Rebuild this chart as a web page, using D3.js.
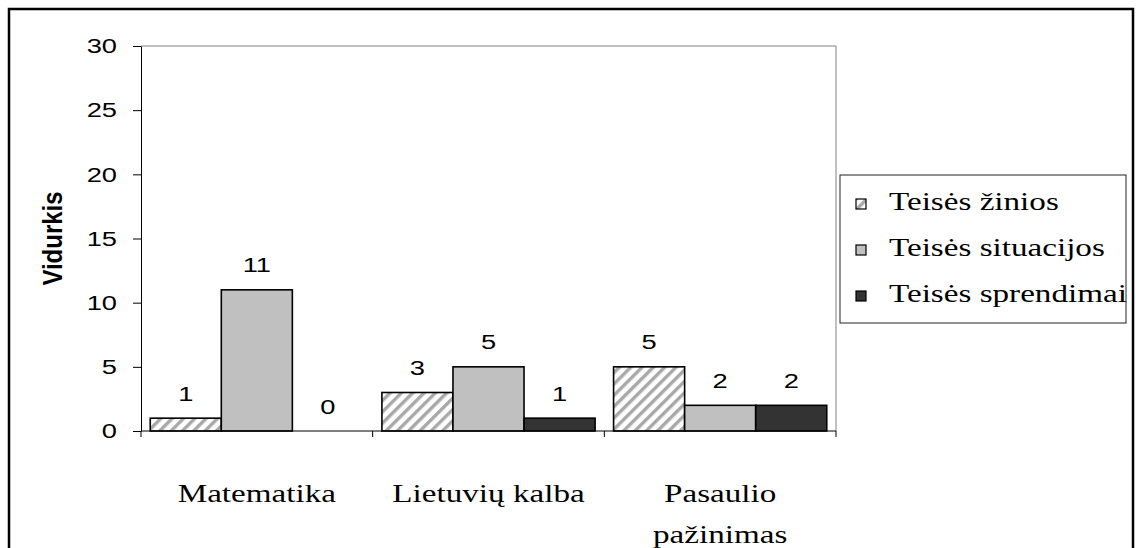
<!DOCTYPE html>
<html><head><meta charset="utf-8">
<script src="https://cdn.jsdelivr.net/npm/d3@7"></script>
<style>body{margin:0;background:#fff}svg{display:block}</style>
</head><body>
<svg id="c" width="1136" height="548"></svg>
<script>
const categories = [["Matematika"], ["Lietuvių kalba"], ["Pasaulio", "pažinimas"]];
const seriesNames = ["Teisės žinios", "Teisės situacijos", "Teisės sprendimai"];
const zinios = [1, 3, 5];
const situacijos = [11, 5, 2];
const sprendimai = [0, 1, 2];
const yTicks = [0, 5, 10, 15, 20, 25, 30];
const seriesValues = [zinios, situacijos, sprendimai];

const SX = 1.3; // horizontal text stretch seen in reference
const SANS = "Liberation Sans, Arial, sans-serif";
const SERIF = "Liberation Serif, Times New Roman, serif";

const svg = d3.select("#c");
const defs = svg.append("defs");
const pat = defs.append("pattern").attr("id", "hatch").attr("patternUnits", "userSpaceOnUse")
  .attr("width", 8).attr("height", 8).attr("patternTransform", "rotate(45)");
pat.append("rect").attr("width", 8).attr("height", 8).attr("fill", "#fff");
pat.append("rect").attr("x", 0).attr("width", 3.4).attr("height", 8).attr("fill", "#a8a8a8");
const fills = ["url(#hatch)", "#c0c0c0", "#333333"];

// outer frame
svg.append("path").attr("d", "M9,548 V9 H1133 V548").attr("fill", "none").attr("stroke", "#000").attr("stroke-width", 2.5);

const L = 141, R = 836, T = 46, B = 431;
const x = d3.scaleBand().domain(d3.range(categories.length)).range([L, R]).padding(0);
const xs = d3.scaleBand().domain(d3.range(seriesNames.length)).range([0, x.bandwidth()]).paddingInner(0).paddingOuter(0.13);
const y = d3.scaleLinear().domain([0, 30]).range([B, T]);

function stretchedText(sel, px, py) {
  return sel.attr("transform", `translate(${px},${py}) scale(${SX},1)`);
}

// plot frame (top/right gray)
svg.append("path").attr("d", `M${L},${T} H${R} V${B}`).attr("fill", "none").attr("stroke", "#808080").attr("stroke-width", 1);

// bars
seriesValues.forEach((vals, si) => {
  svg.append("g").selectAll("rect").data(vals).join("rect")
    .attr("x", (d, i) => x(i) + xs(si))
    .attr("y", d => y(d))
    .attr("width", xs.bandwidth())
    .attr("height", d => B - y(d))
    .attr("fill", fills[si])
    .attr("stroke", d => d > 0 ? "#000" : "none")
    .attr("stroke-width", 1.6);
  svg.append("g").selectAll("text").data(vals).join("text")
    .each(function(d, i) {
      stretchedText(d3.select(this), x(i) + xs(si) + xs.bandwidth() / 2, y(d) - 17.5);
    })
    .attr("text-anchor", "middle")
    .attr("font-family", SANS)
    .attr("font-size", 21)
    .text(d => d);
});

// y axis
const yAxis = svg.append("g").attr("transform", `translate(${L},0)`)
  .call(d3.axisLeft(y).tickValues(yTicks).tickSize(8).tickSizeOuter(0));
yAxis.attr("font-size", null).attr("font-family", null);
yAxis.select(".domain").attr("stroke", "#000").attr("stroke-width", 1);
yAxis.selectAll(".tick line").attr("stroke", "#000");
yAxis.selectAll(".tick text").attr("font-family", SANS)
  .attr("font-size", 21).attr("fill", "#000").attr("x", 0)
  .attr("transform", `translate(-24,0) scale(${SX},1)`);

// x axis
const xAxis = svg.append("g").attr("transform", `translate(0,${B})`);
xAxis.append("line").attr("x1", L).attr("x2", R).attr("stroke", "#000").attr("stroke-width", 1);
const bounds = d3.range(categories.length + 1).map(i => i < categories.length ? x(i) : x(i - 1) + x.bandwidth());
xAxis.selectAll("line.t").data(bounds).join("line").attr("class", "t")
  .attr("x1", d => d).attr("x2", d => d).attr("y1", 0).attr("y2", 6).attr("stroke", "#000");
categories.forEach((lines, i) => {
  lines.forEach((ln, k) => {
    stretchedText(svg.append("text"), x(i) + x.bandwidth() / 2, 502 + k * 41)
      .attr("text-anchor", "middle").attr("font-family", SERIF).attr("font-size", 25.5)
      .attr("fill", "#000").text(ln);
  });
});

// y title
svg.append("text").attr("transform", `translate(62,${(T + B) / 2}) scale(1.15,1) rotate(-90)`)
  .attr("text-anchor", "middle").attr("font-family", SANS)
  .attr("font-weight", "bold").attr("font-size", 24).text("Vidurkis");

// legend
const lg = svg.append("g");
lg.append("rect").attr("x", 840).attr("y", 175).attr("width", 286).attr("height", 148)
  .attr("fill", "#fff").attr("stroke", "#222").attr("stroke-width", 1);
const lyBase = [210, 256, 302];
seriesNames.forEach((n, i) => {
  lg.append("rect").attr("x", 856).attr("y", lyBase[i] - 11).attr("width", 10).attr("height", 10)
    .attr("fill", fills[i]).attr("stroke", "#000").attr("stroke-width", 1.2);
  stretchedText(lg.append("text"), 889, lyBase[i])
    .attr("font-family", SERIF).attr("font-size", 25.5).text(n);
});
</script>
</body></html>
